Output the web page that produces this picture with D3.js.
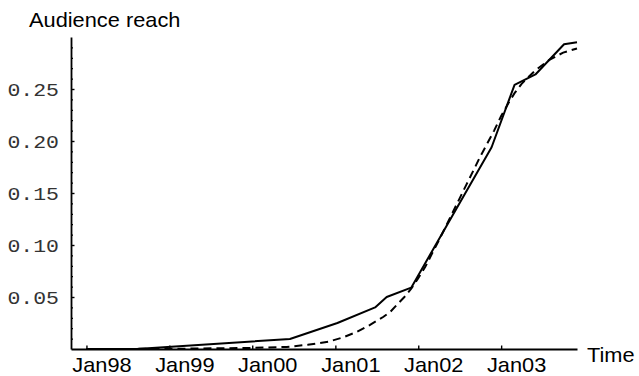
<!DOCTYPE html>
<html>
<head>
<meta charset="utf-8">
<script src="https://cdn.jsdelivr.net/npm/d3@7/dist/d3.min.js"></script>
<style>
  body { margin: 0; background: #fff; }
  svg { display: block; }
</style>
</head>
<body>
<div id="chartContainer"></div>
<script>
// Data (date, audience reach)
const actualDates = ['1998-01-01', '1998-08-10', '2000-06-15', '2001-01-10', '2001-06-25',
  '2001-08-15', '2001-12-01', '2002-11-20', '2003-03-01', '2003-06-01', '2003-10-05', '2003-12-01'];
const actualValues = [0, 0, 0.0096, 0.025, 0.040, 0.050, 0.059, 0.194, 0.254, 0.264, 0.293, 0.295];

const fittedDates = ['1998-01-01', '1999-01-01', '2000-01-01', '2000-06-01', '2000-09-01',
  '2000-12-01', '2001-02-01', '2001-04-01', '2001-06-01', '2001-08-01', '2001-09-01',
  '2001-10-01', '2001-11-01', '2001-12-01', '2002-01-01', '2002-02-01', '2002-03-01',
  '2002-04-01', '2002-06-01', '2002-08-01', '2002-10-01', '2002-12-01', '2003-01-01',
  '2003-02-01', '2003-03-01', '2003-04-01', '2003-06-01', '2003-08-01', '2003-10-01',
  '2003-12-01'];
const fittedValues = [0, 0.0002, 0.001, 0.002, 0.004, 0.007, 0.011, 0.016, 0.023, 0.031, 0.036,
  0.043, 0.050, 0.058, 0.068, 0.079, 0.091, 0.104, 0.131, 0.158, 0.185, 0.210, 0.224,
  0.236, 0.246, 0.255, 0.268, 0.278, 0.285, 0.289];

const xTickDates = ['1998-01-01', '1999-01-01', '2000-01-01', '2001-01-01', '2002-01-01', '2003-01-01'];
const yTickValues = [0.05, 0.10, 0.15, 0.20, 0.25];
const yMinorValues = d3.range(1, 30).map(i => i / 100);

const width = 639;
const height = 376;
const margin = { top: 37, left: 71, right: 62, bottom: 27 };
const stretch = 1.09; // reference text is wider than tall
const monoStretch = 1.13;

const parse = d3.timeParse('%Y-%m-%d');
const actual = actualDates.map((d, i) => ({ date: parse(d), value: actualValues[i] }));
const fitted = fittedDates.map((d, i) => ({ date: parse(d), value: fittedValues[i] }));

const svg = d3
  .select('#chartContainer')
  .append('svg')
  .attr('width', width)
  .attr('height', height);

const x = d3
  .scaleTime()
  .domain([parse('1997-10-25'), parse('2003-12-01')])
  .range([margin.left, width - margin.right]);
const y = d3
  .scaleLinear()
  .domain([0, 0.30])
  .range([height - margin.bottom, margin.top]);

// Lines
const line = d3
  .line()
  .x(d => x(d.date))
  .y(d => y(d.value));

svg.append('path')
  .attr('d', line(fitted))
  .attr('fill', 'none')
  .attr('stroke', '#000')
  .attr('stroke-width', 2)
  .attr('stroke-dasharray', '8,5');

svg.append('path')
  .attr('d', line(actual))
  .attr('fill', 'none')
  .attr('stroke', '#000')
  .attr('stroke-width', 2)
  .attr('stroke-linejoin', 'round');

// Y minor ticks
svg.append('g')
  .attr('transform', `translate(${margin.left},0)`)
  .call(d3.axisLeft(y).tickValues(yMinorValues).tickSize(-2).tickSizeOuter(0).tickFormat(''))
  .call(g => g.select('.domain').remove())
  .selectAll('line').attr('stroke-width', 1.2);

// Y axis
const yAxisG = svg.append('g')
  .attr('transform', `translate(${margin.left},0)`)
  .call(d3.axisLeft(y).tickValues(yTickValues).tickSize(-3.5).tickSizeOuter(0)
    .tickFormat(d3.format('.2f')));
yAxisG.select('.domain').attr('stroke-width', 1.8);
yAxisG.selectAll('line').attr('stroke-width', 1.4);
yAxisG.selectAll('text')
  .attr('font-family', '"Liberation Mono", monospace')
  .attr('font-size', 19)
  .attr('fill', '#333')
  .attr('x', -12 / monoStretch)
  .attr('dy', '0.36em')
  .attr('transform', `scale(${monoStretch},1)`);

// X axis
const xAxisG = svg.append('g')
  .attr('transform', `translate(0,${height - margin.bottom})`)
  .call(d3.axisBottom(x).tickValues(xTickDates.map(parse)).tickSize(-3.5).tickSizeOuter(0)
    .tickFormat(d3.timeFormat('Jan%y')));
xAxisG.select('.domain').attr('stroke-width', 1.8);
xAxisG.selectAll('line').attr('stroke-width', 1.4);
xAxisG.selectAll('text')
  .attr('font-family', '"Liberation Sans", Arial, sans-serif')
  .attr('font-size', 20)
  .attr('fill', '#000')
  .attr('x', 15 / stretch)
  .attr('y', 23)
  .attr('dy', 0)
  .attr('transform', `scale(${stretch},1)`);

// Axis labels
svg.append('text')
  .attr('x', 29 / stretch)
  .attr('y', 27)
  .attr('transform', `scale(${stretch},1)`)
  .attr('font-family', '"Liberation Sans", Arial, sans-serif')
  .attr('font-size', 20)
  .text('Audience reach');

svg.append('text')
  .attr('x', 587 / stretch)
  .attr('y', 362)
  .attr('transform', `scale(${stretch},1)`)
  .attr('font-family', '"Liberation Sans", Arial, sans-serif')
  .attr('font-size', 20)
  .text('Time');
</script>
</body>
</html>
